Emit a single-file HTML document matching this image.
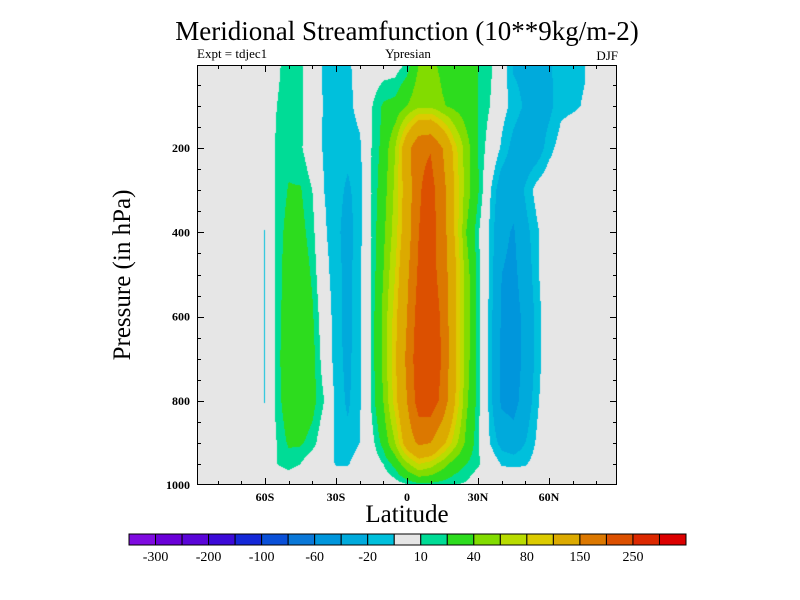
<!DOCTYPE html>
<html><head><meta charset="utf-8"><style>
body{margin:0;background:#fff;width:800px;height:600px;overflow:hidden;position:relative;font-family:"Liberation Serif",serif}
.t{position:absolute;white-space:nowrap;color:#000}
</style></head><body>
<div class="t" style="left:0;width:814px;text-align:center;top:16px;font-size:27px">Meridional Streamfunction (10**9kg/m-2)</div>
<div class="t" style="left:197px;top:46px;font-size:13px">Expt = tdjec1</div>
<div class="t" style="left:358px;width:100px;text-align:center;top:46px;font-size:13px">Ypresian</div>
<div class="t" style="right:182px;top:48px;font-size:13px">DJF</div>
<div class="t" style="left:123px;top:275px;font-size:25px;transform:translate(-50%,-50%) rotate(-90deg)">Pressure (in hPa)</div>
<div class="t" style="left:357px;width:100px;text-align:center;top:501px;font-size:25px">Latitude</div>
<canvas id="cv" width="420" height="420" style="position:absolute;left:197px;top:65px"></canvas>
<svg id="sv" width="800" height="600" style="position:absolute;left:0;top:0"></svg>
<script>
const lats=[-90,-85,-80,-75,-70,-65,-60,-55,-50,-45,-40,-35,-30,-25,-20,-15,-10,-5,0,5,10,15,20,25,30,35,40,45,50,55,60,65,70,75,80,85,90];
const pres=[0,100,200,300,400,500,600,700,800,900,950,1000];
const field=[
[0,0,0,0,0,0,0,8,14,12,0,-12,-13,-12,-5,0,2,3,12,40,45,35,30,25,20,13,0,-22,-25,-25,-22,-14,-13,-11,0,0,0],
[0,0,0,0,0,0,0,10,14,12,3,-12,-15,-14,-5,9,22,25,40,55,55,42,35,28,20,10,-5,-14,-22,-28,-24,-13,-12,-9,0,0,0],
[0,0,0,0,0,0,0,12,16,12,0,-12,-16,-17,-13,10,25,60,130,190,197,150,90,50,20,3,-12,-25,-32,-28,-14,-5,0,0,0,0,0],
[0,0,0,0,0,0,0,12,21,21,10,-10,-16,-22,-15,10,30,65,120,195,218,170,100,50,22,-8,-30,-32,-18,-5,0,0,0,0,0,0,0],
[0,0,0,0,0,0,-11,14,25,25,14,-8,-17,-25,-14,10,35,70,125,200,220,175,100,40,12,-12,-35,-42,-25,-12,0,0,0,0,0,0,0],
[0,0,0,0,0,0,-11,14,28,30,18,-5,-16,-24,-13,10,40,80,140,210,220,180,110,50,15,-12,-40,-45,-30,-12,0,0,0,0,0,0,0],
[0,0,0,0,0,0,-11,14,30,32,22,0,-16,-24,-13,12,45,90,150,225,235,190,110,50,15,-14,-42,-48,-35,-15,0,0,0,0,0,0,0],
[0,0,0,0,0,0,-11,15,32,34,25,3,-16,-23,-13,12,45,95,160,235,240,195,110,50,15,-14,-45,-50,-35,-15,0,0,0,0,0,0,0],
[0,0,0,0,0,0,-11,14,30,32,25,10,-14,-22,-12,12,40,90,150,225,230,185,105,45,14,-14,-44,-48,-30,-12,0,0,0,0,0,0,0],
[0,0,0,0,0,0,0,10,22,22,15,0,-12,-17,-10,5,25,60,120,160,150,110,70,35,12,-10,-25,-30,-20,-8,0,0,0,0,0,0,0],
[0,0,0,0,0,0,0,10,14,10,0,-3,-11,-11,-3,0,10,25,55,80,70,50,30,20,12,0,-11,-12,-11,-5,0,0,0,0,0,0,0],
[0,0,0,0,0,0,0,0,0,0,0,0,0,0,0,0,0,3,8,14,14,12,10,8,0,0,0,0,0,0,0,0,0,0,0,0,0]];
const levels=[-300,-250,-200,-150,-100,-80,-60,-40,-20,-10,10,20,40,60,80,100,150,200,250,300];
const colors=["#7f0be0","#6a00d8","#5a05d8","#3c0ad8","#1428d8","#0a50d8","#0a78d8","#0096dc","#00aadc","#00c0dc","#e6e6e6","#00dc96","#2ddc1e","#82dc00","#b9dc00","#dccb00","#dcaa00","#dc7800","#dc5000","#dc2800","#dc0000"];
const cbLabels=["-300","-200","-100","-60","-20","10","40","80","150","250"];
const X0=197,X1=617,Y0=65,Y1=485;
function xOf(lat){return 407+lat*71/30;}
function yOf(p){return 64+p*0.421;}
function latOf(x){return (x-407)*30/71;}
function pOf(y){return (y-64)/0.421;}
function interp(lat,p){
  let i=Math.max(0,Math.min(lats.length-2,Math.floor((lat-lats[0])/5)));
  let fx=Math.max(0,Math.min(1,(lat-lats[i])/(lats[i+1]-lats[i])));
  let j=0;while(j<pres.length-2&&p>pres[j+1])j++;
  let fy=Math.max(0,Math.min(1,(p-pres[j])/(pres[j+1]-pres[j])));
  const a=field[j][i],b=field[j][i+1],c=field[j+1][i],d=field[j+1][i+1];
  return (a*(1-fx)+b*fx)*(1-fy)+(c*(1-fx)+d*fx)*fy;
}
const ctx=document.getElementById('cv').getContext('2d');
const img=ctx.createImageData(420,420);
function hex(h){return [parseInt(h.substr(1,2),16),parseInt(h.substr(3,2),16),parseInt(h.substr(5,2),16)];}
const rgb=colors.map(hex);
for(let py=0;py<420;py++){for(let px=0;px<420;px++){
  const v=interp(latOf(X0+px+0.5),pOf(Y0+py+0.5));
  let k=0;while(k<levels.length&&v>=levels[k])k++;
  const c=rgb[k],o=(py*420+px)*4;img.data[o]=c[0];img.data[o+1]=c[1];img.data[o+2]=c[2];img.data[o+3]=255;}}
ctx.putImageData(img,0,0);
const sv=document.getElementById('sv');const NS="http://www.w3.org/2000/svg";
function mk(t,a,parent){const e=document.createElementNS(NS,t);for(const k in a)e.setAttribute(k,a[k]);(parent||sv).appendChild(e);return e;}
const frame=mk('rect',{x:X0+0.5,y:Y0+0.5,width:X1-X0-1,height:Y1-Y0-1,fill:'none',stroke:'#000','stroke-width':1});


const xtickLats=[-60,-30,0,30,60];
const xtickLabels=["60S","30S","0","30N","60N"];
for(let lat=-80;lat<=80;lat+=10){const x=Math.round(xOf(lat))+0.5;const major=lat%30===0;const L=major?7:4;
  mk('line',{x1:x,x2:x,y1:Y1,y2:Y1-L,stroke:'#000'});mk('line',{x1:x,x2:x,y1:Y0,y2:Y0+L,stroke:'#000'});}
xtickLats.forEach((lat,i)=>{const t=mk('text',{x:xOf(lat),y:501,'text-anchor':'middle','font-size':12,'font-weight':'bold','font-family':'Liberation Serif, serif'});t.textContent=xtickLabels[i];
  
  });
const ytickP=[200,400,600,800,1000];
for(let p=50;p<=1000;p+=50){const y=Math.round(yOf(p))+0.5;if(y>Y1)continue;const L=p%200===0?7:4;
  mk('line',{x1:X0,x2:X0+L,y1:y,y2:y,stroke:'#000'});mk('line',{x1:X1,x2:X1-L,y1:y,y2:y,stroke:'#000'});}
ytickP.forEach(p=>{const t=mk('text',{x:190,y:Math.min(yOf(p),485)+4,'text-anchor':'end','font-size':12,'font-weight':'bold','font-family':'Liberation Serif, serif'});t.textContent=String(p);
  
  });
const CB0=129,CB1=686,CBY=534,CBH=11,bw=(CB1-CB0)/colors.length;
colors.forEach((c,i)=>{const r=mk('rect',{x:CB0+i*bw,y:CBY,width:bw,height:CBH,fill:c,stroke:'#000','stroke-width':1});
  
  });
cbLabels.forEach((s,i)=>{const t=mk('text',{x:CB0+(2*i+1)*bw,y:561,'text-anchor':'middle','font-size':14,'font-family':'Liberation Serif, serif'});t.textContent=s;
  
  });
</script>
</body></html>
